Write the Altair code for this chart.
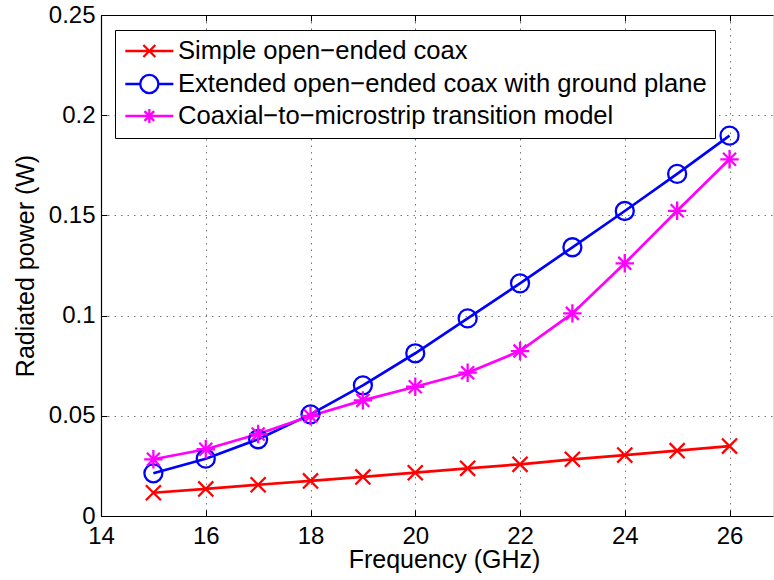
import altair as alt
import pandas as pd

# Frequency sweep (GHz) and radiated power (W) for the three models
freq = [15, 16, 17, 18, 19, 20, 21, 22, 23, 24, 25, 26]
simple = [0.0116, 0.0135, 0.0156, 0.0175, 0.0195, 0.0216, 0.0238, 0.0258, 0.0283, 0.0304, 0.0326, 0.0349]
extended = [0.0213, 0.0286, 0.0383, 0.0507, 0.0652, 0.0812, 0.0986, 0.1161, 0.1341, 0.1522, 0.1707, 0.1898]
transition = [0.0283, 0.0333, 0.0409, 0.0499, 0.0577, 0.0645, 0.0715, 0.0823, 0.1011, 0.1261, 0.1523, 0.1780]

series_names = [
    "Simple open−ended coax",
    "Extended open−ended coax with ground plane",
    "Coaxial−to−microstrip transition model",
]
series_colors = ["#ff0000", "#0000ff", "#ff00ff"]

x_ticks = [14, 16, 18, 20, 22, 24, 26]
y_ticks = [0, 0.05, 0.1, 0.15, 0.2, 0.25]

# MATLAB-like marker glyphs: x, o, *
marker_paths = [
    "M-0.94,-0.94L0.94,0.94M-0.94,0.94L0.94,-0.94",
    "M1.125,0A1.125,1.125,0,1,1,-1.125,0A1.125,1.125,0,1,1,1.125,0",
    "M0,-1.15L0,1.15M-1.15,0L1.15,0M-0.81,-0.81L0.81,0.81M-0.81,0.81L0.81,-0.81",
]
# Legend keys: a line segment with the marker in its middle (drawn right of the key origin)
legend_paths = [
    "M-0.93,0L3.25,0M0.64,-0.52L1.68,0.52M0.64,0.52L1.68,-0.52",
    "M-0.93,0L0.37,0M1.95,0L3.25,0M1.95,0A0.79,0.79,0,1,1,0.37,0A0.79,0.79,0,1,1,1.95,0",
    "M-0.93,0L3.25,0M1.16,-0.6L1.16,0.6M0.74,-0.42L1.58,0.42M0.74,0.42L1.58,-0.42",
]

rows = []
for name, vals in zip(series_names, [simple, extended, transition]):
    for f, p in zip(freq, vals):
        rows.append({"freq": f, "power": p, "series": name})
df = pd.DataFrame(rows)

W, H = 672, 501
FONT = "Liberation Sans"

x_scale = alt.Scale(domain=[14, 26.83], nice=False, zero=False)
y_scale = alt.Scale(domain=[0, 0.25], nice=False)
color_scale = alt.Scale(domain=series_names, range=series_colors)

grid_kw = dict(grid=True, gridColor="#777777", gridDash=[1.5, 5], gridWidth=1)

x_main = alt.Axis(
    orient="bottom", values=x_ticks, title="Frequency (GHz)", labelFontSize=24,
    labelFont=FONT, labelColor="black", labelPadding=8, ticks=False, tickSize=0,
    domainColor="black", domainWidth=1.2, titleFontSize=25, titleFont=FONT,
    titleFontWeight="normal", titleColor="black", titleX=343, titleY=51,
    titleBaseline="alphabetic", titleAlign="center", labelFlush=False, **grid_kw,
)
y_main = alt.Axis(
    orient="left", values=y_ticks, format="~g", title="Radiated power (W)",
    labelFontSize=24, labelFont=FONT, labelColor="black", labelPadding=6,
    ticks=False, tickSize=0, domainColor="black", domainWidth=1.2,
    titleFontSize=25, titleFont=FONT, titleFontWeight="normal", titleColor="black",
    titleAngle=270, titleX=-68, titleY=250.5, titleBaseline="alphabetic",
    titleAlign="center", labelFlush=False, **grid_kw,
)
# inward tick marks along the bottom and left edges
x_in_bottom = alt.Axis(orient="top", offset=-H, values=x_ticks, labels=False, domain=False,
                       grid=False, ticks=True, tickSize=6, tickColor="black", title=None)
y_in_left = alt.Axis(orient="right", offset=-W, values=y_ticks, labels=False, domain=False,
                     grid=False, ticks=True, tickSize=6, tickColor="black", title=None)
# top frame line with inward ticks
x_top = alt.Axis(orient="bottom", offset=-H, values=x_ticks, labels=False, domain=True,
                 domainColor="black", domainWidth=1.2, grid=False, ticks=True, tickSize=6,
                 tickColor="black", title=None)

legend_kw = dict(
    title=None, orient="none", legendX=14, legendY=15, direction="vertical",
    fillColor="white", strokeColor="black", padding=8, labelFontSize=25.6,
    labelFont=FONT, labelColor="black", labelLimit=800, labelOffset=29,
    rowPadding=5, symbolSize=529, symbolStrokeWidth=2.3,
)

base = alt.Chart(df)

lines = base.mark_line(strokeWidth=2.7).encode(
    x=alt.X("freq:Q", scale=x_scale, axis=x_main),
    y=alt.Y("power:Q", scale=y_scale, axis=y_main),
    color=alt.Color("series:N", scale=color_scale, legend=None),
)

points = base.mark_point(filled=False, size=256, strokeWidth=2.3, opacity=1).encode(
    x=alt.X("freq:Q", scale=x_scale, axis=x_in_bottom),
    y=alt.Y("power:Q", scale=y_scale, axis=y_in_left),
    color=alt.Color("series:N", scale=color_scale, legend=None),
    shape=alt.Shape("series:N", scale=alt.Scale(domain=series_names, range=marker_paths), legend=None),
)

legend_layer = base.transform_filter("false").mark_point(
    filled=False, size=529, strokeWidth=2.3, opacity=1
).encode(
    x=alt.X("freq:Q", scale=x_scale, axis=x_top),
    y=alt.Y("power:Q", scale=y_scale, axis=None),
    color=alt.Color("series:N", scale=color_scale, legend=alt.Legend(**legend_kw)),
    shape=alt.Shape("series:N", scale=alt.Scale(domain=series_names, range=legend_paths),
                    legend=alt.Legend(**legend_kw)),
)

chart = (
    alt.layer(lines, points, legend_layer)
    .resolve_scale(color="independent", shape="independent")
    .resolve_axis(x="independent", y="independent")
    .properties(
        width=W, height=H,
        autosize=alt.AutoSizeParams(type="none"),
        padding={"left": 101, "top": 15, "right": 1, "bottom": 64},
        background="white",
    )
    .configure_view(stroke=None)
    .configure(font=FONT)
)

chart.save("out.html", embed_options={"renderer": "svg", "actions": False})
